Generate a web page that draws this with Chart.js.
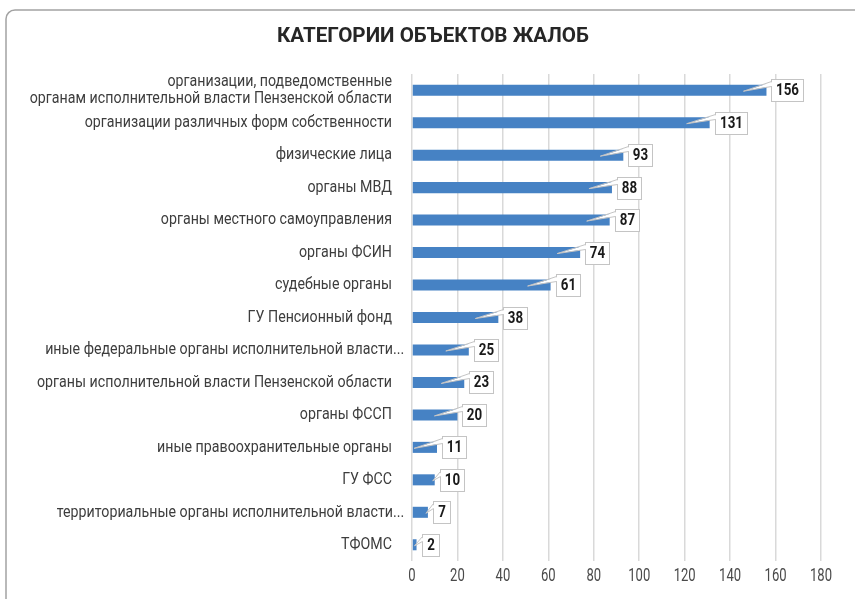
<!DOCTYPE html>
<html>
<head>
<meta charset="utf-8">
<script src="https://cdn.jsdelivr.net/npm/chart.js@4.4.1/dist/chart.umd.min.js"></script>
<style>
  html, body { margin: 0; padding: 0; background: #ffffff; }
  canvas { display: block; }
</style>
</head>
<body>
<canvas id="c" width="855" height="599"></canvas>
<script>
// ---- data ----
const chartTitle = 'КАТЕГОРИИ ОБЪЕКТОВ ЖАЛОБ';
const categories = [
  ['организации, подведомственные', 'органам исполнительной власти Пензенской области'],
  'организации различных форм собственности',
  'физические лица',
  'органы МВД',
  'органы местного самоуправления',
  'органы ФСИН',
  'судебные органы',
  'ГУ Пенсионный фонд',
  'иные федеральные органы исполнительной власти...',
  'органы исполнительной власти Пензенской области',
  'органы ФССП',
  'иные правоохранительные органы',
  'ГУ ФСС',
  'территориальные органы исполнительной власти...',
  'ТФОМС'
];
const values = [156, 131, 93, 88, 87, 74, 61, 38, 25, 23, 20, 11, 10, 7, 2];
const xMin = 0, xMax = 180, xStep = 20;

// ---- fonts (condensed look via horizontal scaling of Roboto) ----
const FONT = 'Roboto, "Liberation Sans", sans-serif';
const mctx = document.createElement('canvas').getContext('2d');
function squeeze(text, weight, size, target) {
  mctx.font = weight + ' ' + size + 'px ' + FONT;
  return Math.min(1, target / mctx.measureText(text).width);
}
const CAT = { size: 17, weight: 'normal', color: '#3d3d3d' };
CAT.sx = squeeze('органы исполнительной власти Пензенской области', CAT.weight, CAT.size, 355);
const TTL = { size: 21, weight: 'bold', color: '#262626' };
TTL.sx = squeeze(chartTitle, TTL.weight, TTL.size, 312);
const TCK = { size: 19, weight: 'normal', color: '#4a4a4a' };
TCK.sx = squeeze('100', TCK.weight, TCK.size, 22);
const LBL = { size: 16.5, weight: 'bold', color: '#1a1a1a' };
LBL.sx = squeeze('156', LBL.weight, LBL.size, 23);

function drawText(ctx, text, x, y, st, align) {
  ctx.save();
  ctx.font = st.weight + ' ' + st.size + 'px ' + FONT;
  ctx.fillStyle = st.color;
  ctx.textBaseline = 'middle';
  ctx.textAlign = align;
  ctx.translate(x, y);
  ctx.scale(st.sx, 1);
  ctx.fillText(text, 0, 0);
  ctx.restore();
}
function textWidth(ctx, text, st) {
  ctx.save();
  ctx.font = st.weight + ' ' + st.size + 'px ' + FONT;
  const w = ctx.measureText(text).width * st.sx;
  ctx.restore();
  return w;
}

// ---- plugins ----
const framePlugin = {
  id: 'frame',
  beforeDraw(chart) {
    const ctx = chart.ctx;
    ctx.save();
    ctx.strokeStyle = '#a3a3a3';
    ctx.lineWidth = 1.5;
    ctx.beginPath();
    ctx.roundRect(6, 10, 900, 700, 9);
    ctx.stroke();
    ctx.restore();
  }
};

const textPlugin = {
  id: 'texts',
  afterDraw(chart) {
    const ctx = chart.ctx;
    const area = chart.chartArea;
    const ys = chart.scales.y, xs = chart.scales.x;
    // title
    drawText(ctx, chartTitle, (9 + chart.width) / 2 + 1, 37, TTL, 'center');
    // category labels (truncated ones let the ellipsis overhang the label edge)
    const lh = 17;
    categories.forEach((lab, i) => {
      const y = ys.getPixelForTick(i);
      const lines = Array.isArray(lab) ? lab : [lab];
      lines.forEach((ln, k) => {
        const yy = y + (k - (lines.length - 1) / 2) * lh;
        const extra = ln.endsWith('...') ? textWidth(ctx, '...', CAT) + 1 : 0;
        drawText(ctx, ln, area.left - 20 + extra, yy, CAT, 'right');
      });
    });
    // x tick labels
    for (let v = xMin; v <= xMax; v += xStep) {
      drawText(ctx, String(v), xs.getPixelForValue(v), area.bottom + 15, TCK, 'center');
    }
  }
};

const calloutPlugin = {
  id: 'callouts',
  afterDatasetsDraw(chart) {
    const ctx = chart.ctx;
    const meta = chart.getDatasetMeta(0);
    ctx.save();
    meta.data.forEach((bar, i) => {
      const txt = String(values[i]);
      const tw = textWidth(ctx, txt, LBL);
      const bw = Math.round(tw + 9), bh = 22;
      const bx = Math.round(bar.x + 5) + 0.5;
      const by = Math.round(bar.y - bh / 2) + 0.5;
      // box
      ctx.fillStyle = '#ffffff';
      ctx.fillRect(bx, by, bw, bh);
      ctx.strokeStyle = '#c4c4c4';
      ctx.lineWidth = 1;
      ctx.strokeRect(bx, by, bw, bh);
      // tail
      const tipX = (bar.x - 23 > bar.base + 1) ? bar.x - 23 : bar.x - 2;
      const tipY = bar.y + 1;
      ctx.beginPath();
      ctx.moveTo(bx + 1, by + 2.5);
      ctx.lineTo(tipX, tipY);
      ctx.lineTo(bx + 1, by + 6.5);
      ctx.closePath();
      ctx.fillStyle = '#ffffff';
      ctx.fill();
      ctx.beginPath();
      ctx.moveTo(bx, by + 2);
      ctx.lineTo(tipX, tipY);
      ctx.lineTo(bx, by + 7);
      ctx.strokeStyle = '#c4c4c4';
      ctx.stroke();
      // value text
      drawText(ctx, txt, bx + bw / 2, by + bh / 2 + 0.5, LBL, 'center');
    });
    ctx.restore();
  }
};

new Chart(document.getElementById('c'), {
  type: 'bar',
  data: {
    labels: categories,
    datasets: [{
      data: values,
      backgroundColor: '#4682c4',
      borderWidth: 0,
      barPercentage: 0.34,
      categoryPercentage: 1.0
    }]
  },
  options: {
    indexAxis: 'y',
    responsive: false,
    animation: false,
    layout: { padding: { left: 9, right: 34, top: 74, bottom: 38 } },
    plugins: {
      legend: { display: false },
      tooltip: { enabled: false },
      title: { display: false }
    },
    scales: {
      x: {
        min: xMin, max: xMax,
        ticks: { stepSize: xStep, display: false },
        grid: { color: '#d9d9d9', lineWidth: 1.5, drawTicks: false },
        border: { display: false }
      },
      y: {
        ticks: { display: false, autoSkip: false },
        grid: { display: false, drawTicks: false },
        border: { display: false },
        afterFit(scale) { scale.width = 403; }
      }
    }
  },
  plugins: [framePlugin, calloutPlugin, textPlugin]
});
</script>
</body>
</html>
